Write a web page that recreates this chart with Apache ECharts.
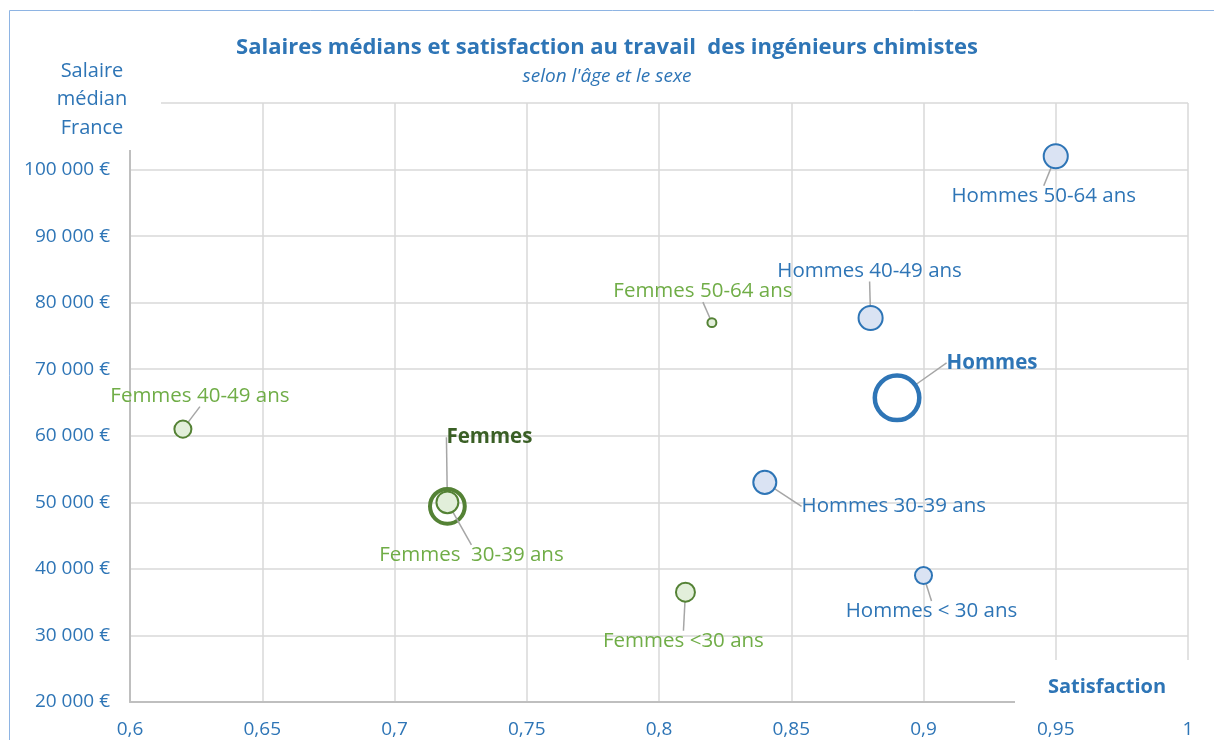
<!DOCTYPE html>
<html>
<head>
<meta charset="utf-8">
<script src="https://cdn.jsdelivr.net/npm/echarts@6/dist/echarts.min.js"></script>
<style>
  html, body { margin: 0; padding: 0; background: #fff; }
  #chart { width: 1214px; height: 740px; }
</style>
</head>
<body>
<div id="chart"></div>
<script>
// données
const hommesNoms = ['Hommes 50-64 ans', 'Hommes 40-49 ans', 'Hommes 30-39 ans', 'Hommes < 30 ans'];
const hommesSatisfaction = [0.95, 0.88, 0.84, 0.90];
const hommesSalaire = [102000, 77700, 53000, 39000];
const hommesEffectif = [580, 580, 530, 290];

const femmesNoms = ['Femmes 50-64 ans', 'Femmes 40-49 ans', 'Femmes  30-39 ans', 'Femmes <30 ans'];
const femmesSatisfaction = [0.82, 0.62, 0.72, 0.81];
const femmesSalaire = [77000, 61000, 50000, 36500];
const femmesEffectif = [80, 290, 480, 360];

const totauxNoms = ['Hommes', 'Femmes'];
const totauxSatisfaction = [0.89, 0.72];
const totauxSalaire = [65700, 49400];
const totauxEffectif = [1980, 1210];

// décalage des étiquettes par rapport au centre des bulles (mise en page)
const decalages = {
  'Hommes 50-64 ans': [-12, 40],
  'Hommes 40-49 ans': [-1, -47],
  'Hommes 30-39 ans': [129, 24],
  'Hommes < 30 ans': [8, 36],
  'Femmes 50-64 ans': [-9, -31],
  'Femmes 40-49 ans': [17, -33],
  'Femmes  30-39 ans': [24, 53],
  'Femmes <30 ans': [-2, 49],
  'Hommes': [95, -35],
  'Femmes': [42, -69]
};

const BLEU = '#2e75b6';
const VERT = '#548235';
const VERT_CLAIR = '#70ad47';
const VERT_FONCE = '#3a5f25';
const POLICE = '"Open Sans", "Noto Sans", sans-serif';
// style des anneaux "total" : [bordure, étiquette, épaisseur]
const stylesTotaux = [[BLEU, BLEU, 4.5], [VERT, VERT_FONCE, 4]];

function points(noms, xs, ys, tailles) {
  return noms.map((n, i) => ({ name: n, value: [xs[i], ys[i], tailles[i]] }));
}

function formatEuro(v) {
  if (v > 100000) return '';
  return String(v).replace(/\B(?=(\d{3})+(?!\d))/g, ' ') + ' €';
}

const labelLayout = function (params) {
  const d = decalages[params.text] || [0, 0];
  return { dx: d[0], dy: d[1] };
};

const labelLine = { show: true, lineStyle: { color: '#a6a6a6', width: 1.5 } };

function etiquette(couleur, gras) {
  return {
    show: true,
    position: 'inside',
    formatter: '{b}',
    fontFamily: POLICE,
    fontSize: 20.5,
    fontWeight: gras ? 'bold' : 'normal',
    color: couleur,
    textBorderWidth: 0,
    opacity: 1
  };
}

const seriesTotaux = totauxNoms.map((nom, i) => ({
  name: nom,
  type: 'scatter',
  z: 2,
  data: [{ name: nom, value: [totauxSatisfaction[i], totauxSalaire[i], totauxEffectif[i]] }],
  symbolSize: d => Math.sqrt(d[2]),
  itemStyle: { color: 'rgba(255,255,255,0)', borderColor: stylesTotaux[i][0], borderWidth: stylesTotaux[i][2], opacity: 1 },
  label: etiquette(stylesTotaux[i][1], true),
  labelLine: labelLine,
  labelLayout: labelLayout
}));

let myChart = echarts.init(document.getElementById('chart'));
let option = {
  animation: false,
  title: {
    text: 'Salaires médians et satisfaction au travail  des ingénieurs chimistes',
    subtext: "selon l'âge et le sexe",
    left: 'center',
    top: 32,
    itemGap: 8,
    textStyle: { fontFamily: POLICE, fontSize: 22, fontWeight: 'bold', color: BLEU },
    subtextStyle: { fontFamily: POLICE, fontSize: 19, fontStyle: 'italic', color: BLEU }
  },
  grid: { left: 130, right: 26, top: 103, bottom: 38, containLabel: false },
  xAxis: {
    type: 'value',
    min: 0.6,
    max: 1,
    interval: 0.05,
    axisLine: { show: true, onZero: false, lineStyle: { color: '#bfbfbf', width: 2 } },
    axisTick: { show: false },
    splitLine: { show: true, lineStyle: { color: '#d9d9d9', width: 1.5 } },
    axisLabel: {
      margin: 18,
      color: BLEU,
      fontFamily: POLICE,
      fontSize: 19,
      formatter: v => String(+v.toFixed(2)).replace('.', ',')
    }
  },
  yAxis: {
    type: 'value',
    min: 20000,
    max: 110000,
    interval: 10000,
    axisLine: { show: true, lineStyle: { color: '#bfbfbf', width: 2 } },
    axisTick: { show: false },
    splitLine: { show: true, lineStyle: { color: '#d9d9d9', width: 1.5 } },
    axisLabel: { margin: 20, color: BLEU, fontFamily: POLICE, fontSize: 19, formatter: formatEuro }
  },
  graphic: [
    { type: 'rect', z: 100, silent: true,
      shape: { x: 9.5, y: 10.5, width: 1300, height: 800 },
      style: { fill: null, stroke: '#8eb4e3', lineWidth: 1 } },
    { type: 'rect', z: 100, silent: true,
      shape: { x: 10, y: 56, width: 151, height: 94 },
      style: { fill: '#fff' } },
    { type: 'text', z: 101, silent: true, x: 92, y: 57,
      style: { text: 'Salaire\nmédian\nFrance', align: 'center', verticalAlign: 'top',
        font: '20px ' + POLICE, lineHeight: 28.5, fill: BLEU } },
    { type: 'rect', z: 100, silent: true,
      shape: { x: 1015, y: 660, width: 190, height: 48 },
      style: { fill: '#fff' } },
    { type: 'text', z: 101, silent: true, x: 1107, y: 687,
      style: { text: 'Satisfaction', align: 'center', verticalAlign: 'middle',
        font: 'bold 20px ' + POLICE, fill: BLEU } }
  ],
  series: seriesTotaux.concat([
    {
      name: 'Hommes par âge',
      type: 'scatter',
      z: 3,
      data: points(hommesNoms, hommesSatisfaction, hommesSalaire, hommesEffectif),
      symbolSize: d => Math.sqrt(d[2]),
      itemStyle: { color: '#dae3f3', borderColor: BLEU, borderWidth: 2, opacity: 1 },
      label: etiquette(BLEU, false),
      labelLine: labelLine,
      labelLayout: labelLayout
    },
    {
      name: 'Femmes par âge',
      type: 'scatter',
      z: 3,
      data: points(femmesNoms, femmesSatisfaction, femmesSalaire, femmesEffectif),
      symbolSize: d => Math.sqrt(d[2]),
      itemStyle: { color: '#e2efda', borderColor: VERT, borderWidth: 2, opacity: 1 },
      label: etiquette(VERT_CLAIR, false),
      labelLine: labelLine,
      labelLayout: labelLayout
    }
  ])
};
myChart.setOption(option);
</script>
</body>
</html>
